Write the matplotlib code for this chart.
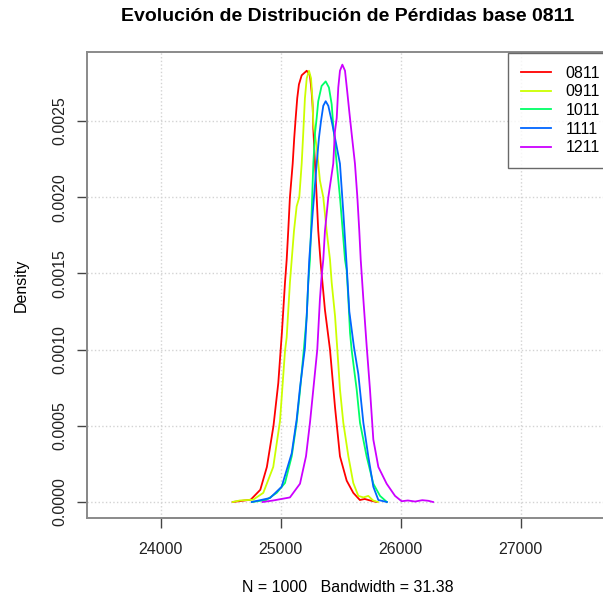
import matplotlib
matplotlib.use('Agg')
import matplotlib.pyplot as plt

plt.rcParams['font.family'] = ['Liberation Sans', 'DejaVu Sans']

# densidades (x = perdida, d = densidad)
x_0811 = [24600, 24700, 24750, 24830, 24885, 24940, 24980, 25010, 25036, 25050,
          25063, 25077, 25100, 25113, 25125, 25138, 25152, 25175, 25217, 25244,
          25258, 25267, 25272, 25286, 25300, 25313, 25333, 25369, 25411, 25453,
          25494, 25550, 25605, 25660, 25700, 25745, 25800]
d_0811 = [0, 0.00001, 0.000015, 0.00008, 0.00023, 0.0005, 0.00078, 0.00111, 0.00144, 0.00159,
          0.00178, 0.002, 0.00222, 0.00239, 0.00252, 0.00265, 0.00274, 0.0028, 0.00283, 0.0028,
          0.00269, 0.00259, 0.00245, 0.00222, 0.002, 0.00178, 0.00157, 0.00126, 0.001, 0.00062,
          0.0003, 0.00014, 0.00006, 0.000013, 0.00002, 0.00001, 0]

x_0911 = [24600, 24660, 24770, 24855, 24938, 24994, 25036, 25050, 25077, 25092,
          25111, 25133, 25155, 25175, 25188, 25202, 25217, 25236, 25253, 25264,
          25272, 25300, 25327, 25355, 25383, 25411, 25425, 25453, 25472, 25494,
          25522, 25564, 25605, 25647, 25690, 25730, 25770, 25810]
d_0911 = [0, 0.00001, 0.000015, 0.00006, 0.00023, 0.00053, 0.00099, 0.00108, 0.00144, 0.00159,
          0.00178, 0.00194, 0.002, 0.00222, 0.00242, 0.00265, 0.00278, 0.00283, 0.00278, 0.00265,
          0.00248, 0.00233, 0.00211, 0.002, 0.00178, 0.00159, 0.00144, 0.00122, 0.001, 0.00074,
          0.00052, 0.0003, 0.000125, 0.00004, 0.00003, 0.00004, 0.00001, 0]

x_1011 = [24760, 24880, 24967, 25036, 25092, 25133, 25161, 25195, 25217, 25230,
          25244, 25258, 25272, 25286, 25300, 25313, 25341, 25375, 25402, 25425,
          25438, 25467, 25494, 25517, 25536, 25550, 25564, 25578, 25591, 25633,
          25661, 25716, 25772, 25828, 25885]
d_1011 = [0, 0.000013, 0.00006, 0.000125, 0.0003, 0.00052, 0.00073, 0.00102, 0.00122, 0.00144,
          0.00159, 0.0019, 0.00222, 0.00242, 0.00252, 0.00263, 0.00273, 0.00276, 0.00272, 0.00261,
          0.00247, 0.00222, 0.002, 0.00178, 0.00159, 0.00152, 0.00133, 0.00111, 0.001, 0.00074,
          0.00052, 0.0003, 0.00012, 0.00004, 0]

x_1111 = [24760, 24911, 25008, 25092, 25133, 25161, 25202, 25217, 25238, 25267,
          25300, 25319, 25336, 25355, 25375, 25397, 25425, 25450, 25494, 25522,
          25550, 25572, 25610, 25647, 25689, 25730, 25772, 25814, 25885]
d_1111 = [0, 0.000026, 0.0001, 0.00032, 0.00054, 0.00075, 0.00101, 0.00122, 0.00159, 0.0019,
          0.00222, 0.00239, 0.0025, 0.0026, 0.00263, 0.0026, 0.0025, 0.0024, 0.00222, 0.0019,
          0.00155, 0.00125, 0.00102, 0.00084, 0.00052, 0.0003, 0.0001, 0.000013, 0]

x_1211 = [24850, 24938, 25077, 25161, 25211, 25244, 25272, 25305, 25327, 25341,
          25355, 25369, 25397, 25438, 25452, 25467, 25480, 25494, 25514, 25536,
          25555, 25572, 25591, 25619, 25639, 25655, 25667, 25689, 25716, 25744,
          25772, 25814, 25883, 25953, 26008, 26060, 26120, 26180, 26230, 26270]
d_1211 = [0, 0.00001, 0.00003, 0.00012, 0.0003, 0.00052, 0.00074, 0.001, 0.00133, 0.00148,
          0.00159, 0.00178, 0.002, 0.00222, 0.00243, 0.00252, 0.00272, 0.00283, 0.00287, 0.00283,
          0.00269, 0.00256, 0.00242, 0.00222, 0.002, 0.00178, 0.00159, 0.00133, 0.00103, 0.00074,
          0.00041, 0.00023, 0.00012, 0.00004, 0.000005, 0.00001, 0.000003, 0.000012, 0.000008, 0]

etiquetas = ['0811', '0911', '1011', '1111', '1211']
colores = ['#FF0000', '#CCFF00', '#00FF66', '#0066FF', '#CC00FF']
xs = [x_0811, x_0911, x_1011, x_1111, x_1211]
ds = [d_0811, d_0911, d_1011, d_1111, d_1211]

xticks = [24000, 25000, 26000, 27000]
yticks = [0.0, 0.0005, 0.0010, 0.0015, 0.0020, 0.0025]

fig = plt.figure(figsize=(6.03, 5.98), dpi=100)
ax = fig.add_axes([87 / 603, 1 - 518 / 598, (609 - 87) / 603, (518 - 52) / 598])

for x, d, c, lab in zip(xs, ds, colores, etiquetas):
    ax.plot(x, d, color=c, lw=1.3, label=lab, solid_joinstyle='round')

ax.set_xlim(23386, 27736)
ax.set_ylim(-0.000105, 0.002953)
ax.set_xticks(xticks)
ax.set_xticklabels([str(t) for t in xticks])
ax.set_yticks(yticks)
ax.set_yticklabels(['%.4f' % t for t in yticks], rotation=90, va='center')
ax.tick_params(direction='out', length=7, width=1, color='#444444',
               labelsize=11.5, labelcolor='#222222')
ax.tick_params(axis='x', pad=10)
ax.tick_params(axis='y', pad=7)

ax.grid(True, color='#d3d3d3', linestyle=':', linewidth=1)
ax.set_axisbelow(True)

for s in ax.spines.values():
    s.set_color('#8a8a8a')
    s.set_linewidth(1.4)

# lineas de eje estilo R (solo entre primer y ultimo tick)
ax.plot([23386, 23386], [yticks[0], yticks[-1]], color='#555555', lw=1.2, clip_on=False)
ax.plot([xticks[0], xticks[-1]], [-0.000105, -0.000105], color='#555555', lw=1.2, clip_on=False)

ax.set_title('Evolución de Distribución de Pérdidas base 0811', fontsize=14,
             fontweight='bold', pad=22)
ax.set_xlabel('N = 1000   Bandwidth = 31.38', fontsize=11.5, labelpad=17)
ax.set_ylabel('Density', fontsize=11.5, labelpad=17.5)

leg = ax.legend(loc='upper left', bbox_to_anchor=((508 - 87) / 522, 0.998),
                fontsize=11.5, frameon=True, fancybox=False, borderaxespad=0,
                handlelength=1.9, handletextpad=0.9, labelspacing=0.23, borderpad=0.8)
leg.get_frame().set_edgecolor('#444444')
leg.get_frame().set_linewidth(1.0)

fig.savefig('out.png', dpi=100)
